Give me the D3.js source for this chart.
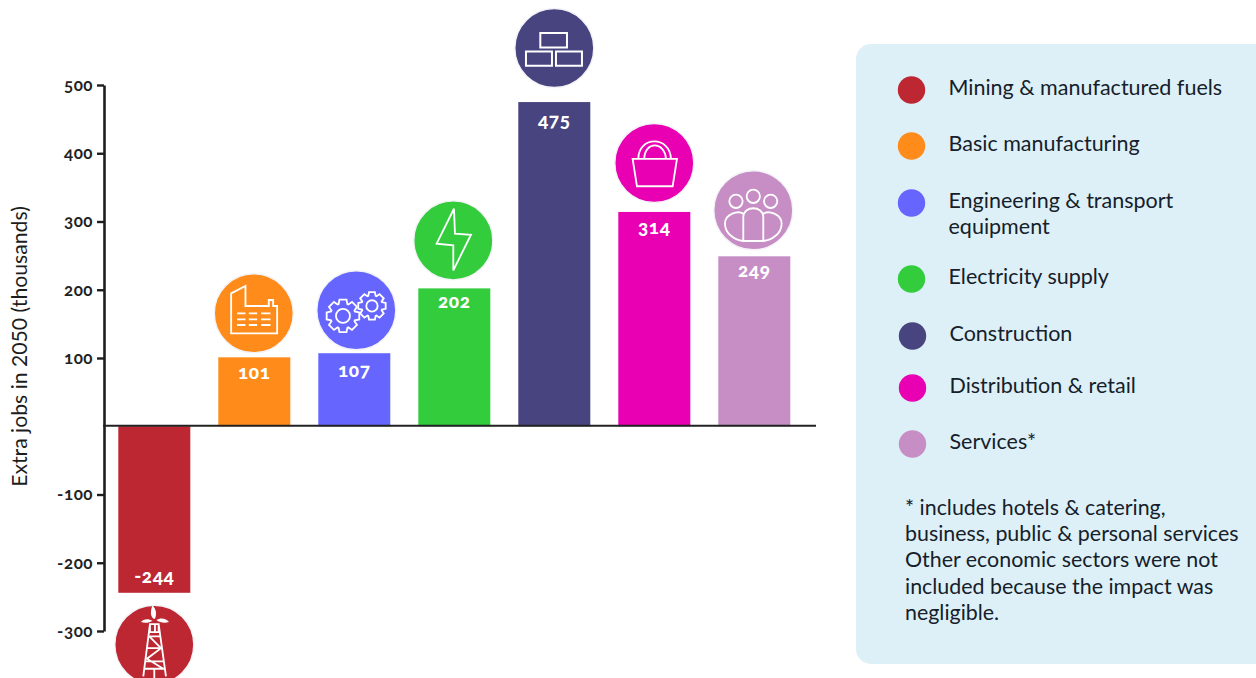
<!DOCTYPE html>
<html><head><meta charset="utf-8">
<script src="https://cdnjs.cloudflare.com/ajax/libs/d3/7.8.5/d3.min.js"></script>
<style>
html,body{margin:0;padding:0;background:#fff;overflow:hidden}
svg{display:block}
text{font-family:Lato,"Noto Sans",sans-serif;}
</style></head><body>
<svg id="c" width="1256" height="678"></svg>
<script>
const categories=["Mining & manufactured fuels","Basic manufacturing","Engineering & transport equipment","Electricity supply","Construction","Distribution & retail","Services"];
const values=[-244,101,107,202,475,314,249];
const colors=["#bc2732","#ff8c1a","#6666ff","#33cc3d","#47447f","#e800b2","#c68ec5"];
const tickValues=[-300,-200,-100,100,200,300,400,500];
const yTitle="Extra jobs in 2050 (thousands)";
const legendLines=[["Mining & manufactured fuels"],["Basic manufacturing"],["Engineering & transport","equipment"],["Electricity supply"],["Construction"],["Distribution & retail"],["Services*"]];
const noteLines=["* includes hotels & catering,","business, public & personal services","Other economic sectors were not","included because the impact was","negligible."];

const svg=d3.select("#c");
const y=d3.scaleLinear().domain([-300,500]).range([631,85]);
const x=d3.scaleBand().domain(categories).range([104.3,804.3]).paddingInner(.28).paddingOuter(.14);
const zero=y(0);

// bars
svg.append("g").selectAll("rect").data(values).join("rect")
  .attr("x",(d,i)=>x(categories[i])).attr("width",x.bandwidth())
  .attr("y",d=>Math.min(y(d),zero)).attr("height",d=>Math.abs(y(d)-zero))
  .attr("fill",(d,i)=>colors[i]);

// axes
const ax=svg.append("g").attr("transform","translate(104,0)")
  .call(d3.axisLeft(y).tickValues(tickValues).tickFormat(d=>String(d)).tickSize(7).tickSizeOuter(0));
ax.select(".domain").attr("stroke","#1d1d1d").attr("stroke-width",2.6);
ax.selectAll(".tick line").attr("stroke","#1d1d1d").attr("stroke-width",2.4);
ax.selectAll(".tick text").attr("x",-11).attr("fill","#222")
  .style("font-size","17px").style("font-weight",700).style("letter-spacing","0.5px")
  .style("font-variant-numeric","oldstyle-nums");
svg.append("line").attr("x1",103).attr("x2",816).attr("y1",zero-.5).attr("y2",zero-.5)
  .attr("stroke","#222").attr("stroke-width",2.2);
svg.append("text").attr("transform","translate(26.5,346.5) rotate(-90)").attr("text-anchor","middle")
  .attr("fill","#1d1d1d").style("font-size","21.2px").text(yTitle);

// value labels
const labelGap=[-10,22,24,20,25,22,21];
svg.append("g").selectAll("text").data(values).join("text")
  .attr("x",(d,i)=>x(categories[i])+x.bandwidth()/2)
  .attr("y",(d,i)=>y(d)+labelGap[i]).attr("text-anchor","middle").attr("fill","#fff")
  .style("font-size","19px").style("font-weight",900).style("letter-spacing","0.6px")
  .style("font-variant-numeric","oldstyle-nums")
  .text(d=>d);

// icons (drawn at 3x in coordinates relative to the circle centre)
function gear(r,rIn,n){
  const p=[],s=2*Math.PI/n;
  for(let i=0;i<n;i++){const a=i*s;
    [[-.5,rIn],[-.3,r],[.3,r],[.5,rIn]].forEach(([o,R])=>p.push([R*Math.cos(a+o*s*.9),R*Math.sin(a+o*s*.9)]));
  }
  return "M"+p.map(q=>q.map(v=>v.toFixed(1)).join(" ")).join("L")+"Z";
}
const icons=[
 g=>{ g.append("path").attr("fill","#fff").attr("stroke","none")
      .attr("d","M-2 -78C-14 -88 -10 -104 -6 -118C6 -108 8 -92 2 -78ZM-5 -72C-18 -80 -34 -78 -40 -68C-28 -64 -14 -66 -5 -72ZM6 -74C18 -82 36 -80 44 -68C32 -64 16 -66 6 -74Z");
      g.append("path").attr("d","M-13 -62H13V-38H-13ZM-13 -62L-33 95M13 -62L35 95M-17 -25H18M-20 10H22M-26 50H28M-29 72H31M-15 -25L20 10L-22 42L27 72M2 -62V-38M0 72V100"); },
 g=>{ g.append("path").attr("d","M-68 60V-60L-25 -82V-22H45V-40H58V-22H70V60ZM-50 0H-25M-15 0H10M22 0H50M-50 18H-25M-15 18H10M22 18H50M-50 35H-25M-15 35H10M22 35H50"); },
 g=>{ g.append("path").attr("d",gear(50,38,8)).attr("transform","translate(-40,17)");
      g.append("circle").attr("cx",-40).attr("cy",17).attr("r",21);
      g.append("path").attr("d",gear(42,32,8)).attr("transform","translate(47,-13)");
      g.append("circle").attr("cx",47).attr("cy",-13).attr("r",17); },
 g=>{ g.append("path").attr("d","M2 -95L-50 10L0 15V90L53 -17L5 -20Z"); },
 g=>{ g.append("path").attr("stroke-width",6).attr("d","M-42 -45H38V-2H-42ZM-85 10H-7V53H-85ZM5 10H83V53H5Z"); },
 g=>{ g.append("path").attr("d","M-65 -12H68L55 70H-52ZM-48 -12C-48 -82 48 -82 50 -12M-30 -12C-30 -66 32 -66 35 -12"); },
 g=>{ [[-52,-27],[0,-42],[52,-27]].forEach(([a,b])=>g.append("circle").attr("cx",a).attr("cy",b).attr("r",20));
      g.append("path").attr("d","M-30 92V20C-30 -15 30 -15 30 20V92M-30 10C-45 0 -85 10 -85 40C-85 70 -55 90 -30 92H30C55 90 85 70 85 40C85 10 45 0 30 10"); }
];
const iconGap=[-52,44,43,48,54,49,46];
const iconDx=[0,-.5,2,-1,0,0,-1];
values.forEach((d,i)=>{
  const cx=x(categories[i])+x.bandwidth()/2+iconDx[i], cy=y(d)-iconGap[i];
  const g=svg.append("g").attr("transform",`translate(${cx},${cy})`);
  g.append("circle").attr("r",39.5).attr("fill",colors[i]).attr("stroke","#f3f3f7").attr("stroke-width",1.4);
  const s=g.append("g").attr("transform","scale(.3333)").attr("fill","none").attr("stroke","#fff").attr("stroke-width",5.5);
  icons[i](s);
});

// legend panel
svg.append("rect").attr("x",856).attr("y",44).attr("width",430).attr("height",620).attr("rx",15).attr("fill","#ddf0f7");
const legendY=[90,146,203,279,336,388,444];
const legendX=[911.5,911.5,911.5,911.5,912.5,912.5,912.5];
const lg=svg.append("g");
legendLines.forEach((lines,i)=>{
  lg.append("circle").attr("cx",legendX[i]).attr("cy",legendY[i]).attr("r",13.7).attr("fill",colors[i]);
  lines.forEach((t,j)=>lg.append("text").attr("x",legendX[i]+37).attr("y",legendY[i]+4.5+j*26)
    .attr("fill","#15202b").style("font-size","21.5px").text(t));
});
noteLines.forEach((t,j)=>svg.append("text").attr("x",905).attr("y",514.5+j*26.4)
  .attr("fill","#15202b").style("font-size","21.4px").text(t));
</script></body></html>
